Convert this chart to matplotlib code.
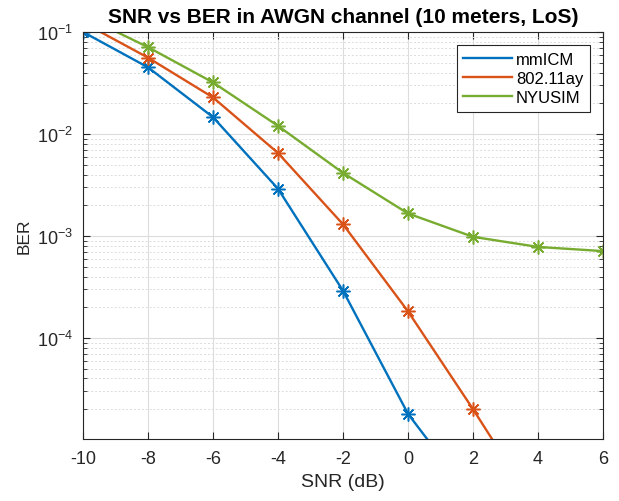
import matplotlib
matplotlib.use("Agg")
import matplotlib.pyplot as plt
import numpy as np
from matplotlib.ticker import LogLocator, NullFormatter

plt.rcParams['font.family'] = ['Liberation Sans', 'DejaVu Sans']
plt.rcParams['mathtext.fontset'] = 'custom'
plt.rcParams['mathtext.rm'] = 'Liberation Sans'
plt.rcParams['mathtext.it'] = 'Liberation Sans'
plt.rcParams['mathtext.default'] = 'regular'
plt.rcParams['axes.unicode_minus'] = False

snr = [-10, -8, -6, -4, -2, 0, 2, 4, 6]
ber_mmicm = [1.0e-1, 4.5e-2, 1.46e-2, 2.9e-3, 2.9e-4, 1.8e-5, 2.6e-6, 3e-7, 3e-8]
ber_80211ay = [1.24e-1, 5.6e-2, 2.28e-2, 6.5e-3, 1.3e-3, 1.82e-4, 2.0e-5, 2.0e-6, 2e-7]
ber_nyusim = [1.45e-1, 7.1e-2, 3.2e-2, 1.2e-2, 4.15e-3, 1.66e-3, 9.8e-4, 7.8e-4, 7.1e-4]

series = [("mmICM", ber_mmicm, "#0072BD"),
          ("802.11ay", ber_80211ay, "#D95319"),
          ("NYUSIM", ber_nyusim, "#77AC30")]

fig = plt.figure(figsize=(6.19, 5.02), dpi=100)
ax = fig.add_axes([0.1341, 0.1235, 0.8401, 0.8108])

for name, vals, col in series:
    ax.semilogy(snr, vals, color=col, lw=1.7, marker=(8, 2, 0), ms=10, mew=1.1, label=name)

ax.set_xlim(-10, 6)
ax.set_ylim(1.02e-5, 1e-1)
ax.set_xticks(snr)
ax.yaxis.set_major_locator(LogLocator(base=10, numticks=10))
ax.yaxis.set_minor_locator(LogLocator(base=10, subs=np.arange(2, 10), numticks=20))
ax.yaxis.set_minor_formatter(NullFormatter())

ax.grid(True, which='major', color='#dcdcdc', lw=0.8, ls='-')
ax.grid(True, which='minor', axis='y', color='#dcdcdc', lw=0.7, ls=(0, (2, 2)))
ax.set_axisbelow(True)

ax.tick_params(which='both', direction='in', top=True, right=True, colors='#262626',
               labelcolor='#262626')
ax.tick_params(which='major', length=5, width=0.8, labelsize=13)
ax.tick_params(axis='x', which='major', pad=8)
ax.tick_params(axis='y', which='major', pad=7)
ax.tick_params(which='minor', length=3, width=0.6)
for s in ax.spines.values():
    s.set_color('#262626')
    s.set_linewidth(0.8)

ax.set_title("SNR vs BER in AWGN channel (10 meters, LoS)", fontsize=15,
             fontweight='bold', color='black', pad=7)
ax.set_xlabel("SNR (dB)", fontsize=14, color='#262626', labelpad=4)
ax.set_ylabel("BER", fontsize=12.5, color='#262626', labelpad=4)

leg = ax.legend(loc='upper right', bbox_to_anchor=(0.975, 0.968), fontsize=12,
                handlelength=2.9, borderaxespad=0.0,
                fancybox=False, framealpha=1, edgecolor='#262626', labelspacing=0.25,
                handletextpad=0.25, borderpad=0.4)
leg.get_frame().set_linewidth(0.8)
for h in leg.legend_handles:
    h.set_marker('')
for t in leg.get_texts():
    t.set_color('black')

fig.savefig("out.png", dpi=100)
